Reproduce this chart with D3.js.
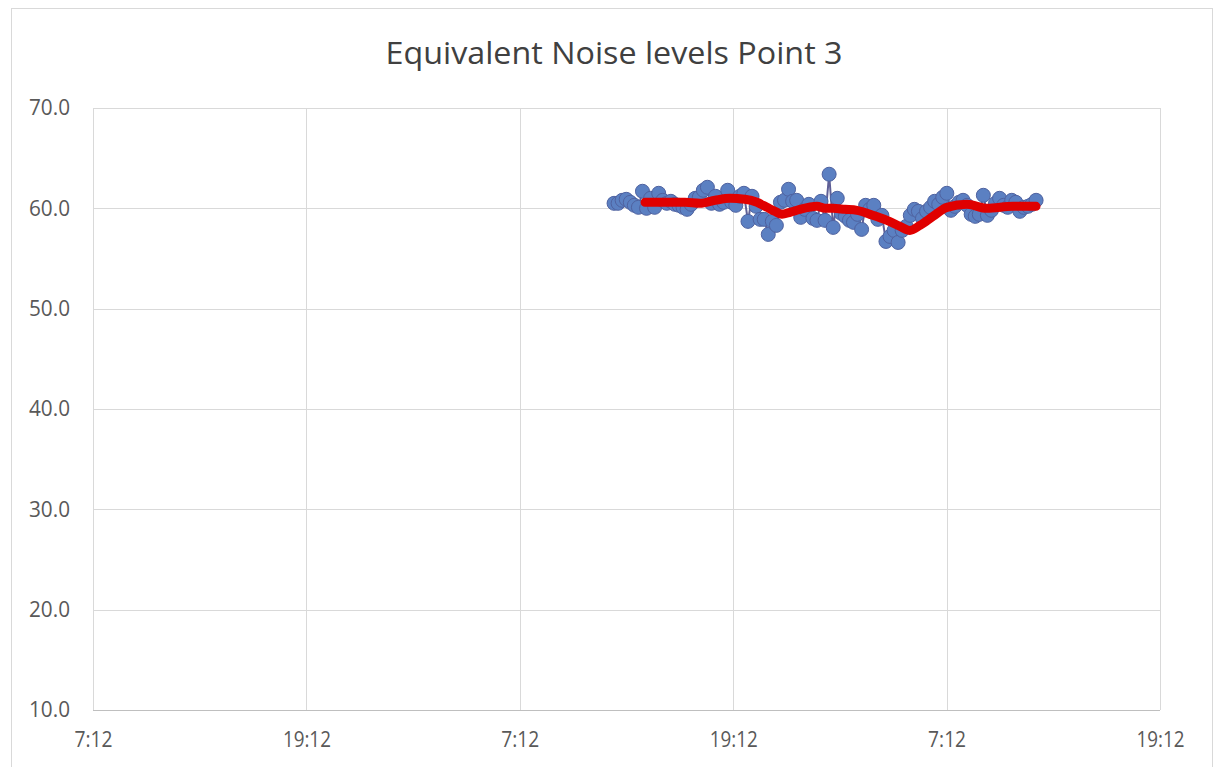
<!DOCTYPE html>
<html><head><meta charset="utf-8">
<script src="https://cdn.jsdelivr.net/npm/d3@7"></script>
<style>html,body{margin:0;padding:0;background:#fff;} svg{display:block;}</style>
</head><body>
<script>
// ---- data ----
const title = "Equivalent Noise levels Point 3";
const yTicks = [10, 20, 30, 40, 50, 60, 70];
const xTickLabels = ["7:12", "19:12", "7:12", "19:12", "7:12", "19:12"];
// measured series: start 29.3 h after the axis origin, readings every ~13.7 min
const seriesStartHours = 29.30;
const seriesStepHours = 0.2282;
const noiseValues = [60.5,60.5,60.8,60.9,60.6,60.3,60.1,61.7,60.0,61.0,60.1,61.5,60.8,60.5,60.7,60.4,60.3,60.1,59.9,60.4,
61.0,61.1,61.8,62.1,60.5,61.2,60.4,60.6,61.8,60.6,60.3,61.2,61.5,58.7,61.2,60.2,58.9,58.9,57.4,58.7,
58.3,60.6,60.8,61.9,60.7,60.8,59.1,59.9,60.4,59.0,58.8,60.7,58.8,63.4,58.1,61.0,59.5,59.2,58.8,58.6,
59.4,57.9,60.3,59.9,60.3,58.9,59.3,56.7,57.2,57.8,56.6,57.8,58.2,59.3,59.9,59.7,59.0,59.7,60.1,60.7,
60.4,61.1,61.5,59.8,60.2,60.6,60.8,60.3,59.4,59.2,59.4,61.3,59.3,59.8,60.5,61.0,60.3,60.1,60.8,60.6,
59.7,60.1,60.2,60.4,60.8];
// moving average (red) line: hours since axis origin, value
const avgHours = [31.04,32.17,33.29,34.13,34.98,35.82,36.66,37.34,37.90,38.35,38.74,39.19,39.75,40.71,41.16,41.61,42.28,42.96,43.69,44.65,45.38,45.94,46.50,47.24,48.02,49.15,50.27,51.73,53.03];
const avgValues = [60.6,60.6,60.6,60.5,60.8,61.0,60.9,60.6,60.1,59.7,59.4,59.6,59.9,60.2,60.0,60.0,59.9,59.8,59.4,58.8,58.2,57.8,58.3,59.2,60.1,60.4,60.0,60.2,60.2];

// ---- chart ----
const W = 1214, H = 767;
const origin = new Date(2020, 0, 1, 7, 12);
const hrs = h => new Date(origin.getTime() + h * 3600e3);
const plot = {l: 93, r: 1160, t: 108, b: 710};

const svg = d3.select("body").append("svg").attr("width", W).attr("height", H)
  .style("font-family", "'Open Sans', 'Noto Sans', sans-serif");

svg.append("rect").attr("x", 11.5).attr("y", 8.5).attr("width", 1201).attr("height", 770)
  .attr("fill", "#fff").attr("stroke", "#d9d9d9").attr("stroke-width", 1);

const x = d3.scaleTime().domain([hrs(0), hrs(60)]).range([plot.l, plot.r]);
const y = d3.scaleLinear().domain([10, 70]).range([plot.b, plot.t]);

const xTicks = d3.range(0, 61, 12).map(hrs);

// gridlines
svg.append("g").selectAll("line").data(yTicks.filter(v => v !== 10)).join("line")
  .attr("x1", plot.l).attr("x2", plot.r)
  .attr("y1", d => Math.round(y(d)) + 0.5).attr("y2", d => Math.round(y(d)) + 0.5)
  .attr("stroke", "#d9d9d9");
svg.append("g").selectAll("line").data(xTicks).join("line")
  .attr("x1", d => Math.round(x(d)) + 0.5).attr("x2", d => Math.round(x(d)) + 0.5)
  .attr("y1", plot.t).attr("y2", plot.b)
  .attr("stroke", "#d9d9d9");
svg.append("line").attr("x1", plot.l).attr("x2", plot.r)
  .attr("y1", plot.b + 0.5).attr("y2", plot.b + 0.5).attr("stroke", "#bfbfbf");

// axes labels
const yAxis = d3.axisLeft(y).tickValues(yTicks).tickFormat(d3.format(".1f")).tickSize(0).tickPadding(23);
const gy = svg.append("g").attr("transform", `translate(${plot.l},0)`).call(yAxis);
gy.select(".domain").remove();
gy.selectAll("text").attr("font-size", 21).attr("fill", "#595959").attr("font-family", "'Open Sans', sans-serif")
  .attr("textLength", 41).attr("lengthAdjust", "spacingAndGlyphs");

const xAxis = d3.axisBottom(x).tickValues(xTicks).tickFormat((d, i) => xTickLabels[i]).tickSize(0).tickPadding(22);
const gx = svg.append("g").attr("transform", `translate(0,${plot.b})`).call(xAxis);
gx.select(".domain").remove();
gx.selectAll("text").attr("font-size", 21).attr("fill", "#595959").attr("font-family", "'Open Sans', sans-serif")
  .attr("textLength", (d, i) => xTickLabels[i].length === 4 ? 38 : 48).attr("lengthAdjust", "spacingAndGlyphs");

// title
svg.append("text").attr("x", 614).attr("y", 64).attr("text-anchor", "middle")
  .attr("font-size", 31).attr("fill", "#404040")
  .attr("textLength", 457).attr("lengthAdjust", "spacingAndGlyphs").text(title);

// series
const pts = noiseValues.map((v, i) => ({t: hrs(seriesStartHours + i * seriesStepHours), v}));
svg.append("path").datum(pts)
  .attr("d", d3.line().x(d => x(d.t)).y(d => y(d.v)))
  .attr("fill", "none").attr("stroke", "#5f5f96").attr("stroke-width", 2);
svg.append("g").selectAll("circle").data(pts).join("circle")
  .attr("cx", d => x(d.t)).attr("cy", d => y(d.v)).attr("r", 7)
  .attr("fill", "#5b80c2").attr("stroke", "#4f62a0").attr("stroke-width", 1);

const avg = avgValues.map((v, i) => ({t: hrs(avgHours[i]), v}));
svg.append("path").datum(avg)
  .attr("d", d3.line().curve(d3.curveMonotoneX).x(d => x(d.t)).y(d => y(d.v)))
  .attr("fill", "none").attr("stroke", "#e00000").attr("stroke-width", 9)
  .attr("stroke-linecap", "round").attr("stroke-linejoin", "round");
</script>
</body></html>
